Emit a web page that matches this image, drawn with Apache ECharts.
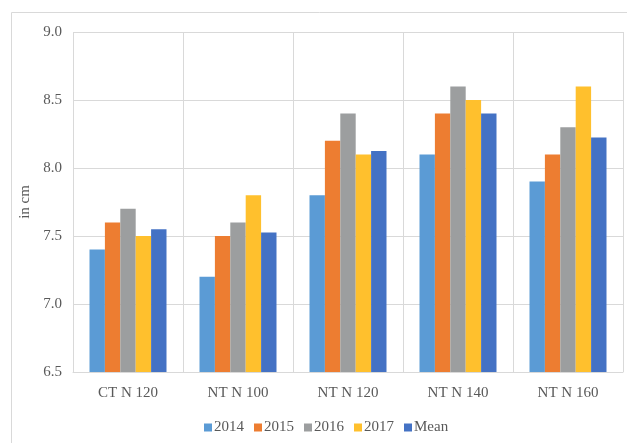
<!DOCTYPE html>
<html>
<head>
<meta charset="utf-8">
<style>
  html, body { margin: 0; padding: 0; background: #fff; }
  #container { width: 627px; height: 443px; }
</style>
<script src="https://cdn.jsdelivr.net/npm/echarts@6/dist/echarts.min.js"></script>
</head>
<body>
<div id="container"></div>
<script>
var categories = ['CT N 120', 'NT N 100', 'NT N 120', 'NT N 140', 'NT N 160'];
var seriesNames = ['2014', '2015', '2016', '2017', 'Mean'];
var v2014 = [7.4, 7.2, 7.8, 8.1, 7.9];
var v2015 = [7.6, 7.5, 8.2, 8.4, 8.1];
var v2016 = [7.7, 7.6, 8.4, 8.6, 8.3];
var v2017 = [7.5, 7.8, 8.1, 8.5, 8.6];
var vMean = [7.55, 7.525, 8.125, 8.4, 8.225];
var colors = ['#5b9bd5', '#ed7d31', '#9c9e9f', '#ffc02d', '#4472c4'];

var dom = document.getElementById('container');
var myChart = echarts.init(dom, null, { renderer: 'canvas' });

var font = '"Liberation Serif", "Times New Roman", serif';
var allValues = [v2014, v2015, v2016, v2017, vMean];

var option = {
    animation: false,
    color: colors,
    textStyle: { fontFamily: font },
    graphic: [
        {
            type: 'rect',
            shape: { x: 11.5, y: 12.5, width: 640, height: 460 },
            style: { fill: null, stroke: '#d9d9d9', lineWidth: 1 },
            silent: true
        }
    ],
    grid: { left: 73, right: 4, top: 32, bottom: 71, containLabel: false },
    legend: {
        bottom: 3,
        left: 199,
        itemWidth: 8,
        itemHeight: 8,
        itemGap: 10,
        icon: 'rect',
        textStyle: { fontFamily: font, fontSize: 15, color: '#595959', padding: [0, 0, 0, -3] },
        data: seriesNames
    },
    xAxis: {
        type: 'category',
        data: categories,
        axisLine: { lineStyle: { color: '#d9d9d9', width: 1 } },
        axisTick: { show: false },
        splitLine: { show: true, lineStyle: { color: '#d9d9d9', width: 1 } },
        axisLabel: { fontFamily: font, fontSize: 15, color: '#595959', margin: 14 }
    },
    yAxis: {
        type: 'value',
        min: 6.5,
        max: 9.0,
        interval: 0.5,
        name: 'in cm',
        nameLocation: 'middle',
        nameGap: 40,
        nameTextStyle: { fontFamily: font, fontSize: 15, color: '#595959' },
        axisLine: { show: false },
        axisTick: { show: false },
        splitLine: { lineStyle: { color: '#d9d9d9', width: 1 } },
        axisLabel: {
            fontFamily: font, fontSize: 15, color: '#595959', margin: 11,
            formatter: function (v) { return v.toFixed(1); }
        }
    },
    series: seriesNames.map(function (name, i) {
        return {
            name: name,
            type: 'bar',
            data: allValues[i],
            barGap: '0%',
            barCategoryGap: '30%',
            itemStyle: { color: colors[i] }
        };
    })
};

myChart.setOption(option);
window.addEventListener('resize', myChart.resize);
</script>
</body>
</html>
